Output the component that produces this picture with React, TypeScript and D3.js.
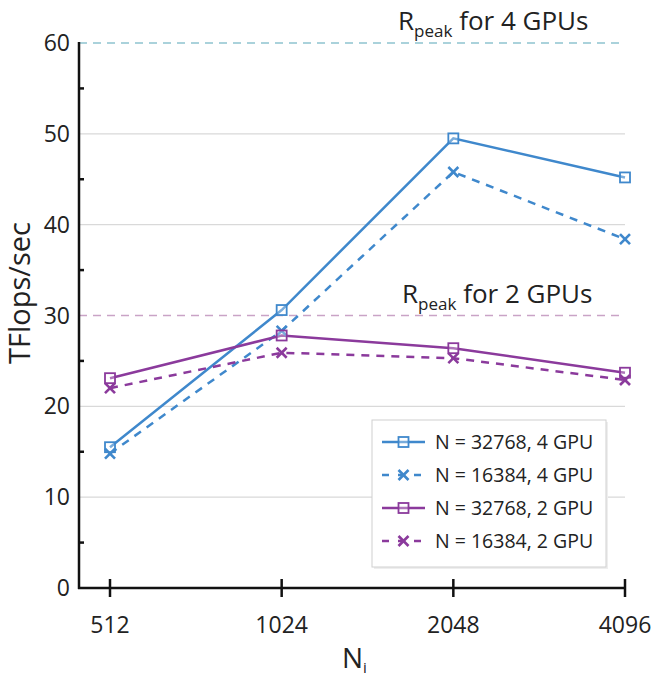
import React from "react";
import * as d3 from "d3";

const categories = ["512", "1024", "2048", "4096"];
const yTicks = [0, 10, 20, 30, 40, 50, 60];
const minorTicks = [5, 15, 25, 35, 45, 55];
const gridValues = [10, 20, 40, 50];

const s32768_4 = [15.5, 30.6, 49.5, 45.2];
const s16384_4 = [14.8, 28.3, 45.8, 38.4];
const s32768_2 = [23.1, 27.8, 26.4, 23.7];
const s16384_2 = [22.0, 25.9, 25.3, 22.9];

const peak4 = 60;
const peak2 = 30;

const seriesNames = ["N = 32768, 4 GPU", "N = 16384, 4 GPU", "N = 32768, 2 GPU", "N = 16384, 2 GPU"];

const BLUE = "#3f88cc";
const PURPLE = "#8b3a9c";

const FONT = "'Open Sans', sans-serif";

export default function App() {
  const W = 656, H = 682;
  const x0 = 79, x1 = 625;
  const y = d3.scaleLinear().domain([0, 60]).range([588, 43]);
  const x = d3.scalePoint().domain(categories).range([110, 625]);

  const series = [
    { name: seriesNames[0], vals: s32768_4, color: BLUE, dash: false, marker: "sq" },
    { name: seriesNames[1], vals: s16384_4, color: BLUE, dash: true, marker: "x" },
    { name: seriesNames[2], vals: s32768_2, color: PURPLE, dash: false, marker: "sq" },
    { name: seriesNames[3], vals: s16384_2, color: PURPLE, dash: true, marker: "x" },
  ];

  const line = d3.line<number>().x((_, i) => x(categories[i])!).y((d) => y(d));

  const marker = (kind: string, cx: number, cy: number, color: string, key: any) => {
    const s = 5;
    if (kind === "sq") {
      return <rect key={key} x={cx - s} y={cy - s} width={2 * s} height={2 * s} fill="white" fillOpacity={0.3} stroke={color} strokeWidth={1.8} />;
    }
    return (
      <g key={key} stroke={color} strokeWidth={2.6}>
        <line x1={cx - s} y1={cy - s} x2={cx + s} y2={cy + s} />
        <line x1={cx - s} y1={cy + s} x2={cx + s} y2={cy - s} />
      </g>
    );
  };

  const legX = 372, legY = 420, legW = 234, legH = 147;

  return (
    <svg width={W} height={H} style={{ display: "block", position: "absolute", left: 0, top: 0 }} fontFamily={FONT}>
      <rect width={W} height={H} fill="white" />
      {gridValues.map((v) => (
        <line key={v} x1={x0} x2={x1} y1={y(v)} y2={y(v)} stroke="#d9d9d9" strokeWidth={1.3} />
      ))}
      <line x1={x0} x2={x1} y1={y(peak4)} y2={y(peak4)} stroke="#8fc3cf" strokeWidth={1.3} strokeDasharray="8,6" />
      <line x1={x0} x2={x1} y1={y(peak2)} y2={y(peak2)} stroke="#c9a3c6" strokeWidth={1.3} strokeDasharray="8,6" />

      <text x={398} y={30} fontSize={26} fill="#222">
        R<tspan fontSize={17} dy={7}>peak</tspan><tspan dy={-7}> for 4 GPUs</tspan>
      </text>
      <text x={402} y={303} fontSize={26} fill="#222">
        R<tspan fontSize={17} dy={7}>peak</tspan><tspan dy={-7}> for 2 GPUs</tspan>
      </text>

      {series.map((s, si) => (
        <path key={si} d={line(s.vals)!} fill="none" stroke={s.color} strokeWidth={2.5} strokeDasharray={s.dash ? "8,7" : undefined} />
      ))}
      {series.map((s, si) => s.vals.map((v, i) => marker(s.marker, x(categories[i])!, y(v), s.color, `${si}-${i}`)))}

      {/* axes */}
      <line x1={x0} x2={x0} y1={y(60) - 1} y2={y(0) + 1} stroke="#111" strokeWidth={2.5} />
      <line x1={x0 - 1} x2={x1} y1={y(0)} y2={y(0)} stroke="#111" strokeWidth={2.5} />
      {minorTicks.map((v) => (
        <line key={v} x1={x0} x2={x0 + 5} y1={y(v)} y2={y(v)} stroke="#111" strokeWidth={2.5} />
      ))}
      {yTicks.map((v) => (
        <text key={v} x={70} y={y(v)} dy="0.35em" textAnchor="end" fontSize={23} fill="#222">{v}</text>
      ))}
      {categories.map((c) => (
        <g key={c}>
          <line x1={x(c)!} x2={x(c)!} y1={y(0) - 9} y2={y(0) + 9} stroke="#111" strokeWidth={2.5} />
          <text x={x(c)!} y={633} textAnchor="middle" fontSize={23} fill="#222">{c}</text>
        </g>
      ))}

      <text transform={`translate(30,293) rotate(-90)`} textAnchor="middle" fontSize={29} fill="#222">TFlops/sec</text>
      <text x={342} y={668} fontSize={28} fill="#222">
        N<tspan fontSize={15} dy={5}>i</tspan>
      </text>

      {/* legend */}
      <rect x={legX + 2} y={legY + 2} width={legW} height={legH} fill="#eeeeee" />
      <rect x={legX} y={legY} width={legW} height={legH} fill="white" stroke="#d0d0d0" strokeWidth={1} />
      {series.map((s, i) => {
        const cy = 442 + i * 33;
        return (
          <g key={i}>
            <line x1={382} x2={425} y1={cy} y2={cy} stroke={s.color} strokeWidth={2.4} strokeDasharray={s.dash ? "7,9" : undefined} />
            {marker(s.marker, 403.5, cy, s.color, "m")}
            <text x={435} y={cy} dy="0.35em" fontSize={19.5} fill="#222">{s.name}</text>
          </g>
        );
      })}
    </svg>
  );
}
